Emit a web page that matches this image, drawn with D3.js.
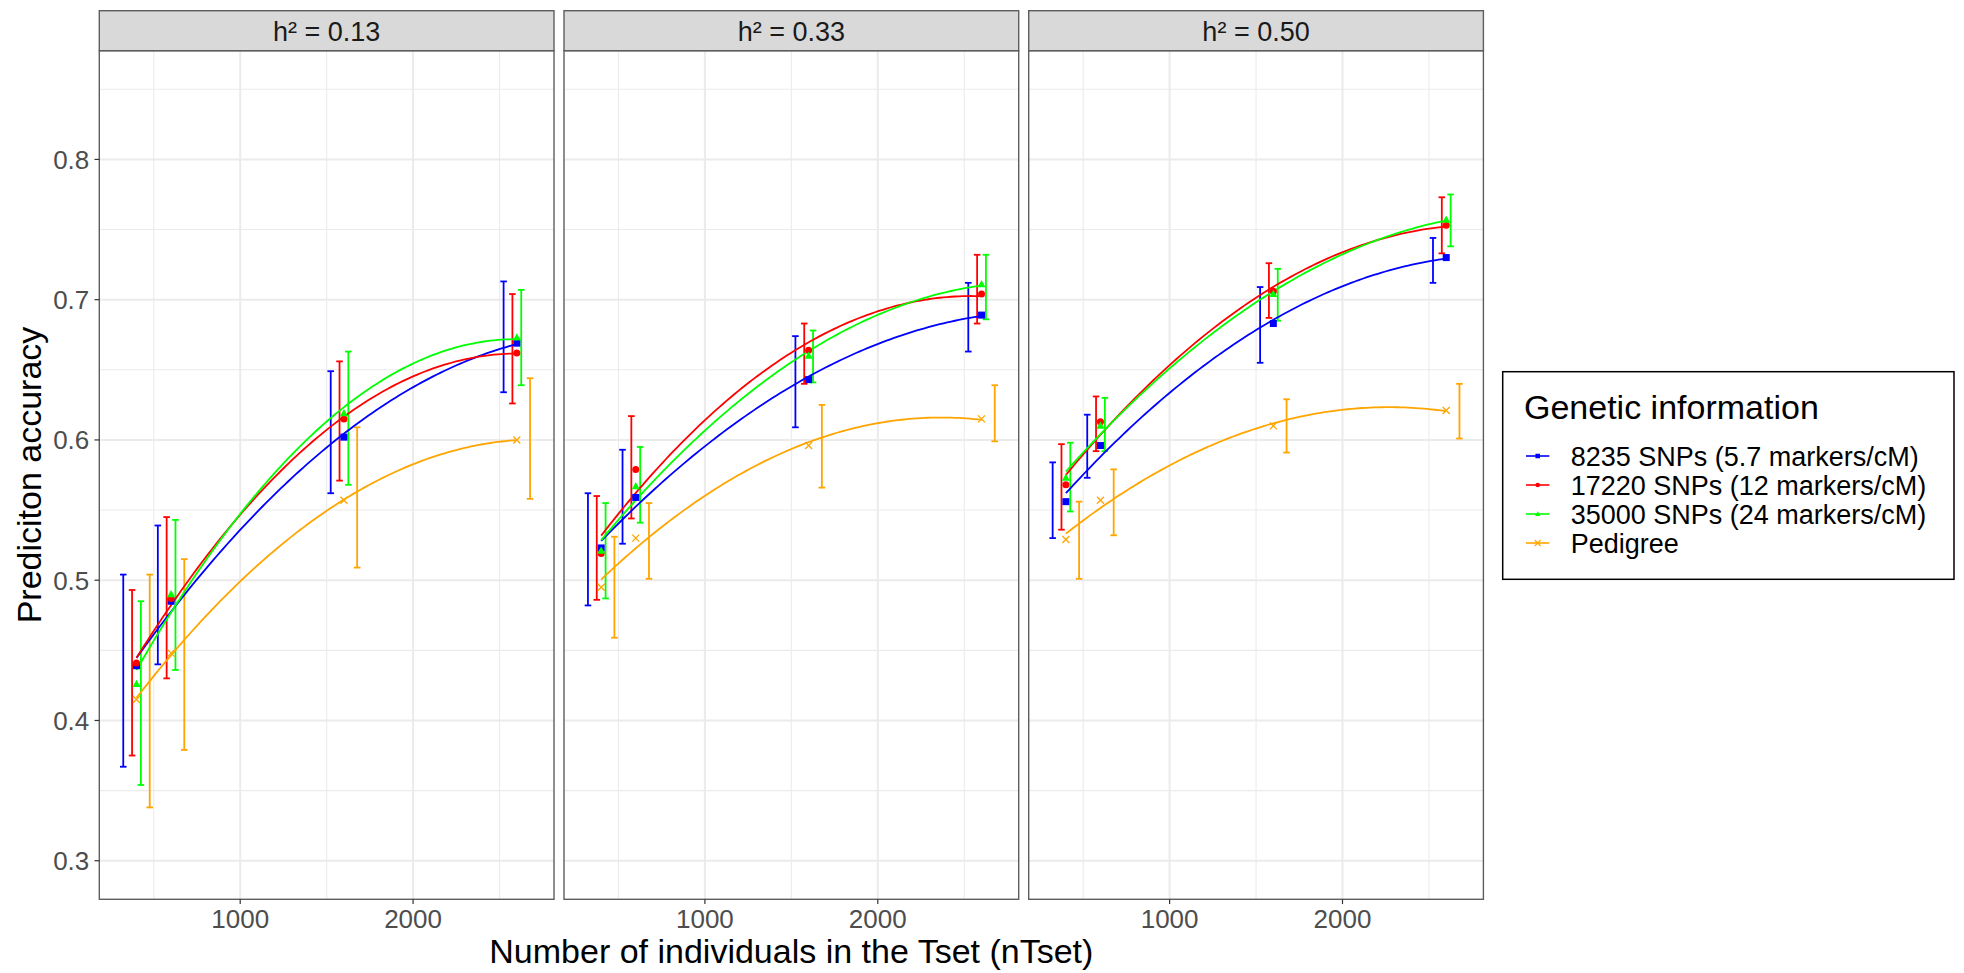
<!DOCTYPE html>
<html>
<head>
<meta charset="utf-8">
<script src="https://cdn.jsdelivr.net/npm/d3@7"></script>
<style>
  body { margin: 0; background: #fff; }
  svg { display: block; }
  text { font-family: "Liberation Sans", Arial, Helvetica, sans-serif; }
</style>
</head>
<body>
<svg id="chart" width="1964" height="973"></svg>
<script>
// ---------------- data ----------------
const facetLabels = ["h² = 0.13", "h² = 0.33", "h² = 0.50"];
const nTset = [400, 600, 1600, 2600];
const seriesLabels = [
  "8235 SNPs (5.7 markers/cM)",
  "17220 SNPs (12 markers/cM)",
  "35000 SNPs (24 markers/cM)",
  "Pedigree"
];

// mean prediction accuracy: one row per heritability facet, one column per nTset
const acc8235 = [
  [0.439, 0.485, 0.602, 0.669],
  [0.523, 0.559, 0.643, 0.689],
  [0.556, 0.596, 0.683, 0.730]
];
const acc17220 = [
  [0.441, 0.487, 0.615, 0.662],
  [0.519, 0.579, 0.664, 0.704],
  [0.568, 0.613, 0.706, 0.753]
];
const acc35000 = [
  [0.426, 0.490, 0.619, 0.673],
  [0.521, 0.567, 0.660, 0.711],
  [0.573, 0.610, 0.704, 0.757]
];
const accPedigree = [
  [0.415, 0.448, 0.557, 0.600],
  [0.495, 0.530, 0.596, 0.615],
  [0.529, 0.557, 0.610, 0.621]
];

// lower / upper ends of the error bars
const low8235 = [
  [0.367, 0.440, 0.562, 0.634],
  [0.482, 0.526, 0.609, 0.663],
  [0.530, 0.573, 0.655, 0.712]
];
const high8235 = [
  [0.504, 0.539, 0.649, 0.713],
  [0.562, 0.593, 0.674, 0.712],
  [0.584, 0.618, 0.709, 0.744]
];
const low17220 = [
  [0.375, 0.430, 0.571, 0.626],
  [0.486, 0.544, 0.640, 0.683],
  [0.536, 0.592, 0.687, 0.733]
];
const high17220 = [
  [0.493, 0.545, 0.656, 0.704],
  [0.560, 0.617, 0.683, 0.732],
  [0.597, 0.631, 0.726, 0.773]
];
const low35000 = [
  [0.354, 0.436, 0.568, 0.639],
  [0.487, 0.541, 0.641, 0.686],
  [0.549, 0.592, 0.685, 0.738]
];
const high35000 = [
  [0.485, 0.543, 0.663, 0.707],
  [0.555, 0.595, 0.678, 0.732],
  [0.598, 0.630, 0.722, 0.775]
];
const lowPedigree = [
  [0.338, 0.379, 0.509, 0.558],
  [0.459, 0.501, 0.566, 0.599],
  [0.501, 0.532, 0.591, 0.601]
];
const highPedigree = [
  [0.504, 0.515, 0.609, 0.644],
  [0.531, 0.555, 0.625, 0.639],
  [0.556, 0.579, 0.629, 0.640]
];

const yTicks = [0.3, 0.4, 0.5, 0.6, 0.7, 0.8];
const yMinor = [0.35, 0.45, 0.55, 0.65, 0.75, 0.85];
const xTicks = [1000, 2000];
const xMinor = [500, 1500, 2500];
const yLimits = [0.3, 0.85];

// ---------------- styling ----------------
const seriesColors = ["#0000FF", "#FF0000", "#00FF00", "#FFA500"];
const seriesShapes = ["square", "circle", "triangle", "cross"];

const series = seriesLabels.map((label, i) => ({
  label,
  mean: [acc8235, acc17220, acc35000, accPedigree][i],
  low: [low8235, low17220, low35000, lowPedigree][i],
  high: [high8235, high17220, high35000, highPedigree][i],
  color: seriesColors[i],
  shape: seriesShapes[i]
}));

// ---------------- layout ----------------
const panelLeft = [99.3, 564.0, 1028.7];
const panelW = 454.7;
const stripTop = 10.7;
const panelTop = 50.7;
const panelBottom = 899.3;
const panelH = panelBottom - panelTop;

// error bars are dodged side by side around each nTset
const dodgeStep = 51;          // data units between neighbouring bars
const capWidth = 38;           // data units
const dodge = i => (i - (series.length - 1) / 2) * dodgeStep;

const xLo = d3.min(nTset) + dodge(0) - capWidth / 2;
const xHi = d3.max(nTset) + dodge(series.length - 1) + capWidth / 2;
const xPad = (xHi - xLo) * 0.05;
const x = d3.scaleLinear().domain([xLo - xPad, xHi + xPad]).range([0, panelW]);

const yPad = (yLimits[1] - yLimits[0]) * 0.05;
const y = d3.scaleLinear().domain([yLimits[0] - yPad, yLimits[1] + yPad]).range([panelH, 0]);

// least-squares quadratic fit y = a + b x + c x^2
function quadFit(xs, ys) {
  const n = xs.length;
  let s = [0, 0, 0, 0, 0], t = [0, 0, 0];
  for (let k = 0; k < n; k++) {
    const xv = xs[k], yv = ys[k];
    for (let p = 0; p <= 4; p++) s[p] += Math.pow(xv, p);
    for (let p = 0; p <= 2; p++) t[p] += yv * Math.pow(xv, p);
  }
  const M = [
    [s[0], s[1], s[2], t[0]],
    [s[1], s[2], s[3], t[1]],
    [s[2], s[3], s[4], t[2]]
  ];
  for (let c = 0; c < 3; c++) {
    let piv = c;
    for (let r = c + 1; r < 3; r++) if (Math.abs(M[r][c]) > Math.abs(M[piv][c])) piv = r;
    [M[c], M[piv]] = [M[piv], M[c]];
    for (let r = 0; r < 3; r++) {
      if (r === c) continue;
      const f = M[r][c] / M[c][c];
      for (let k = c; k < 4; k++) M[r][k] -= f * M[c][k];
    }
  }
  const coef = [M[0][3] / M[0][0], M[1][3] / M[1][1], M[2][3] / M[2][2]];
  return xv => coef[0] + coef[1] * xv + coef[2] * xv * xv;
}

function drawShape(g, shape, cx, cy, size, color, crossWidth) {
  if (shape === "square") {
    g.append("rect").attr("x", cx - size / 2).attr("y", cy - size / 2)
      .attr("width", size).attr("height", size).attr("fill", color);
  } else if (shape === "circle") {
    g.append("circle").attr("cx", cx).attr("cy", cy).attr("r", size / 2).attr("fill", color);
  } else if (shape === "triangle") {
    const h = size * 1.0;
    const w = size * 1.15;
    g.append("path")
      .attr("d", `M${cx},${cy - h * 0.62}L${cx + w / 2},${cy + h * 0.42}L${cx - w / 2},${cy + h * 0.42}Z`)
      .attr("fill", color);
  } else {
    const r = size / 2;
    g.append("path")
      .attr("d", `M${cx - r},${cy - r}L${cx + r},${cy + r}M${cx - r},${cy + r}L${cx + r},${cy - r}`)
      .attr("stroke", color).attr("stroke-width", crossWidth || 1.3).attr("fill", "none");
  }
}

const svg = d3.select("#chart");
svg.append("rect").attr("width", 1964).attr("height", 973).attr("fill", "#fff");

const borderColor = "#5e5e5e";
const line = d3.line().x(d => x(d[0])).y(d => y(d[1]));

facetLabels.forEach((label, p) => {
  const g = svg.append("g").attr("transform", `translate(${panelLeft[p]},${panelTop})`);

  g.append("rect").attr("width", panelW).attr("height", panelH).attr("fill", "#fff");

  // grid
  const grid = g.append("g");
  xMinor.forEach(v => grid.append("line").attr("x1", x(v)).attr("x2", x(v)).attr("y1", 0).attr("y2", panelH)
    .attr("stroke", "#EBEBEB").attr("stroke-width", 1.1));
  yMinor.forEach(v => grid.append("line").attr("x1", 0).attr("x2", panelW).attr("y1", y(v)).attr("y2", y(v))
    .attr("stroke", "#EBEBEB").attr("stroke-width", 1.1));
  xTicks.forEach(v => grid.append("line").attr("x1", x(v)).attr("x2", x(v)).attr("y1", 0).attr("y2", panelH)
    .attr("stroke", "#EBEBEB").attr("stroke-width", 2));
  yTicks.forEach(v => grid.append("line").attr("x1", 0).attr("x2", panelW).attr("y1", y(v)).attr("y2", y(v))
    .attr("stroke", "#EBEBEB").attr("stroke-width", 2));

  // error bars
  series.forEach((s, i) => {
    const eb = g.append("g").attr("stroke", s.color).attr("stroke-width", 1.8).attr("fill", "none");
    nTset.forEach((n, j) => {
      const xc = n + dodge(i);
      const lo = s.low[p][j], hi = s.high[p][j];
      eb.append("line").attr("x1", x(xc)).attr("x2", x(xc)).attr("y1", y(lo)).attr("y2", y(hi));
      eb.append("line").attr("x1", x(xc - capWidth / 2)).attr("x2", x(xc + capWidth / 2)).attr("y1", y(lo)).attr("y2", y(lo));
      eb.append("line").attr("x1", x(xc - capWidth / 2)).attr("x2", x(xc + capWidth / 2)).attr("y1", y(hi)).attr("y2", y(hi));
    });
  });

  // quadratic trend curves
  series.forEach(s => {
    const f = quadFit(nTset, s.mean[p]);
    const x0 = d3.min(nTset), x1 = d3.max(nTset);
    const pts = d3.range(0, 101).map(k => {
      const xv = x0 + (x1 - x0) * k / 100;
      return [xv, f(xv)];
    });
    g.append("path").attr("d", line(pts)).attr("fill", "none")
      .attr("stroke", s.color).attr("stroke-width", 1.8);
  });

  // mean markers
  series.forEach(s => {
    const mg = g.append("g");
    nTset.forEach((n, j) => drawShape(mg, s.shape, x(n), y(s.mean[p][j]), 7, s.color));
  });

  // panel border
  g.append("rect").attr("width", panelW).attr("height", panelH)
    .attr("fill", "none").attr("stroke", borderColor).attr("stroke-width", 1.4);

  // strip
  const sg = svg.append("g").attr("transform", `translate(${panelLeft[p]},${stripTop})`);
  sg.append("rect").attr("width", panelW).attr("height", panelTop - stripTop)
    .attr("fill", "#D9D9D9").attr("stroke", borderColor).attr("stroke-width", 1.4);
  sg.append("text").attr("x", panelW / 2).attr("y", 30.2).attr("text-anchor", "middle")
    .attr("font-size", 27).attr("fill", "#1A1A1A").text(label);

  // x axis
  const xa = svg.append("g").attr("transform", `translate(${panelLeft[p]},${panelBottom})`);
  xTicks.forEach(v => {
    xa.append("line").attr("x1", x(v)).attr("x2", x(v)).attr("y1", 0).attr("y2", 4.8)
      .attr("stroke", "#333").attr("stroke-width", 1.2);
    xa.append("text").attr("x", x(v)).attr("y", 29).attr("text-anchor", "middle")
      .attr("font-size", 26).attr("fill", "#4D4D4D").text(d3.format("d")(v));
  });
});

// y axis (left panel only)
const ya = svg.append("g").attr("transform", `translate(${panelLeft[0]},${panelTop})`);
yTicks.forEach(v => {
  ya.append("line").attr("x1", -4.8).attr("x2", 0).attr("y1", y(v)).attr("y2", y(v))
    .attr("stroke", "#333").attr("stroke-width", 1.2);
  ya.append("text").attr("x", -10).attr("y", y(v)).attr("dy", "0.36em").attr("text-anchor", "end")
    .attr("font-size", 26).attr("fill", "#4D4D4D").text(d3.format(".1f")(v));
});

// axis titles
svg.append("text").attr("x", (panelLeft[0] + panelLeft[2] + panelW) / 2).attr("y", 963)
  .attr("text-anchor", "middle").attr("font-size", 34).attr("fill", "#000")
  .text("Number of individuals in the Tset (nTset)");
svg.append("text")
  .attr("transform", `translate(41,${(panelTop + panelBottom) / 2}) rotate(-90)`)
  .attr("text-anchor", "middle").attr("font-size", 34).attr("fill", "#000")
  .text("Prediciton accuracy");

// legend
const lg = svg.append("g").attr("transform", "translate(1502.7,371.7)");
lg.append("rect").attr("width", 451.3).attr("height", 207.6)
  .attr("fill", "#fff").attr("stroke", "#000").attr("stroke-width", 1.5);
lg.append("text").attr("x", 21.3).attr("y", 47.6).attr("font-size", 34).attr("fill", "#000")
  .text("Genetic information");
series.forEach((s, i) => {
  const cy = 84.3 + i * 29;
  const kg = lg.append("g");
  kg.append("line").attr("x1", 23.3).attr("x2", 46.6).attr("y1", cy).attr("y2", cy)
    .attr("stroke", s.color).attr("stroke-width", 1.6);
  drawShape(kg, s.shape, 35, cy, s.shape === "cross" ? 6 : 4.5, s.color, 1.1);
  lg.append("text").attr("x", 68).attr("y", cy).attr("dy", "0.36em")
    .attr("font-size", 27).attr("fill", "#000").text(s.label);
});
</script>
</body>
</html>
